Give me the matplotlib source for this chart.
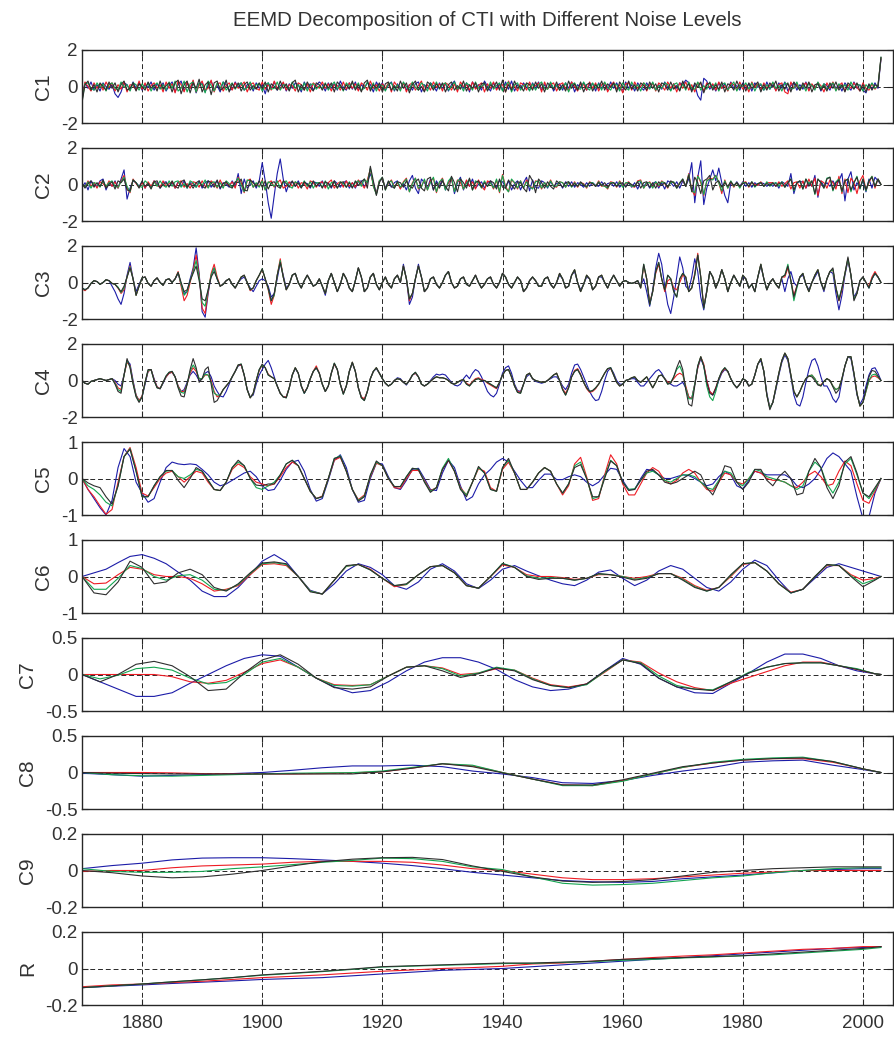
import matplotlib
matplotlib.use("Agg")
import matplotlib.pyplot as plt
import numpy as np

plt.rcParams["font.family"] = ["Liberation Sans", "DejaVu Sans"]

title = "EEMD Decomposition of CTI with Different Noise Levels"
panel_names = ["C1", "C2", "C3", "C4", "C5", "C6", "C7", "C8", "C9", "R"]
xtick_years = [1880, 1900, 1920, 1940, 1960, 1980, 2000]

# sampling grids (years)
years_1 = np.arange(1870, 2004)            # 134 values
years_half = np.arange(1870, 2003.5, 0.5)  # 267 values
years_c6 = list(range(1870, 2003, 2)) + [2003]
years_c7 = list(range(1870, 2003, 3)) + [2003]
years_5 = list(range(1870, 2001, 5)) + [2003]

# ---------------- C1 (half-year steps) ----------------
c1_blue = [
    -0.5, 0.2, -0.1, 0.25, -0.2, 0.1, -0.25, 0.2, 0.0, -0.15,
    0.1, -0.4, -0.6, -0.3, 0.2, 0.1, -0.2, 0.25, -0.1, 0.2,
    -0.2, 0.1, -0.05, 0.25, -0.2, 0.15, -0.1, 0.2, -0.25, 0.05,
    0.25, -0.3, 0.1, 0.3, -0.25, 0.2, -0.1, 0.3, -0.35, 0.15,
    0.2, -0.3, 0.1, 0.3, -0.2, 0.05, -0.3, 0.25, 0.1, -0.2,
    -0.15, 0.25, -0.05, 0.2, -0.2, 0.1, 0.15, -0.25, 0.2, -0.1,
    0.1, -0.4, 0.2, -0.1, 0.25, -0.2, 0.05, 0.2, -0.25, 0.15,
    -0.1, 0.2, 0.1, -0.3, 0.25, -0.1, 0.15, -0.2, 0.05, 0.25,
    0.1, -0.25, 0.2, -0.1, 0.15, -0.2, 0.3, -0.05, -0.2, 0.2,
    -0.15, 0.25, -0.2, 0.1, -0.1, 0.2, 0.1, -0.3, 0.25, -0.05,
    0.2, -0.2, 0.05, 0.25, -0.25, 0.15, -0.1, 0.2, -0.2, 0.1,
    -0.2, 0.15, 0.25, -0.3, 0.1, -0.1, 0.2, 0.05, -0.25, 0.2,
    -0.1, 0.15, -0.25, 0.1, 0.3, -0.2, 0.1, -0.1, 0.2, -0.3,
    0.25, -0.05, 0.1, -0.2, 0.3, 0.0, -0.25, 0.2, -0.1, 0.15,
    -0.2, 0.25, -0.15, 0.3, -0.25, 0.1, -0.1, 0.2, -0.05, -0.2,
    0.2, -0.1, 0.25, -0.2, 0.1, -0.1, 0.2, -0.25, 0.05, 0.15,
    -0.2, 0.2, -0.1, 0.25, -0.3, 0.1, -0.05, 0.2, -0.2, 0.1,
    0.15, -0.25, 0.2, -0.1, 0.1, -0.2, 0.25, -0.1, 0.2, -0.15,
    -0.2, 0.25, -0.1, 0.1, -0.25, 0.2, -0.05, -0.2, 0.2, -0.1,
    0.2, -0.2, 0.1, -0.15, 0.25, -0.05, -0.2, 0.15, -0.1, 0.2,
    0.1, 0.35, 0.2, -0.2, 0.1, -0.5, -0.75, 0.45, 0.3, -0.15,
    0.1, -0.25, 0.2, -0.1, 0.15, -0.2, 0.25, -0.1, 0.05, -0.2,
    0.2, -0.1, 0.15, -0.25, 0.2, -0.05, 0.1, -0.2, 0.25, -0.15,
    0.1, -0.2, 0.2, -0.1, 0.25, -0.25, 0.05, 0.2, -0.2, 0.1,
    -0.15, 0.25, -0.2, 0.1, -0.1, 0.2, -0.25, 0.15, 0.05, -0.2,
    0.2, -0.1, 0.1, -0.25, 0.2, -0.05, -0.2, 0.25, -0.1, 0.1,
    -0.2, -0.35, 0.1, -0.15, 0.2, -0.1, 1.5]
c1_red = [
    -0.7, 0.25, 0.0, -0.25, 0.2, -0.1, 0.15, -0.2, 0.25, -0.05,
    0.2, -0.25, 0.1, -0.15, 0.25, -0.3, 0.1, 0.05, -0.2, 0.3,
    -0.15, 0.2, -0.25, 0.05, 0.2, -0.1, 0.1, -0.3, 0.25, -0.1,
    0.15, -0.35, 0.3, 0.1, -0.3, 0.25, -0.1, 0.35, -0.3, 0.05,
    0.3, -0.2, -0.1, 0.35, -0.3, 0.15, 0.2, -0.25, 0.05, 0.2,
    -0.2, 0.2, -0.1, 0.05, 0.25, -0.3, 0.1, 0.2, -0.1, -0.2,
    0.25, -0.15, 0.1, -0.2, 0.3, -0.1, -0.15, 0.25, -0.2, 0.1,
    0.05, -0.25, 0.2, 0.1, -0.2, 0.15, -0.3, 0.2, 0.05, -0.1,
    0.25, -0.1, 0.15, -0.25, 0.1, 0.05, -0.2, 0.25, -0.15, 0.2,
    -0.1, 0.15, -0.25, 0.2, 0.05, -0.2, 0.3, -0.1, 0.1, -0.25,
    0.15, -0.1, 0.2, -0.3, 0.25, 0.0, -0.15, 0.2, -0.3, 0.1,
    0.2, -0.2, 0.05, 0.3, -0.25, 0.1, -0.2, 0.25, -0.05, 0.15,
    -0.25, 0.2, 0.1, -0.2, 0.15, -0.3, 0.25, 0.0, 0.1, -0.2,
    0.25, -0.15, 0.05, 0.2, -0.3, 0.15, -0.1, 0.25, -0.2, 0.05,
    0.1, -0.3, 0.3, -0.1, 0.05, -0.25, 0.2, 0.1, -0.2, 0.25,
    -0.1, 0.05, 0.2, -0.3, 0.25, -0.15, 0.1, 0.2, -0.25, 0.1,
    0.2, -0.1, -0.2, 0.25, 0.0, -0.25, 0.15, 0.1, -0.2, 0.25,
    -0.1, 0.2, -0.25, 0.1, 0.2, -0.3, 0.05, 0.25, -0.15, 0.1,
    -0.35, 0.15, 0.2, -0.2, 0.25, -0.1, 0.0, 0.2, -0.25, 0.1,
    0.15, -0.25, 0.2, 0.05, -0.2, 0.25, -0.1, 0.15, -0.3, 0.2,
    -0.1, 0.25, -0.2, 0.1, -0.3, 0.2, 0.15, -0.25, 0.2, -0.05,
    0.15, -0.2, 0.25, -0.1, 0.05, -0.25, 0.2, 0.1, -0.2, 0.25,
    -0.15, 0.1, -0.3, 0.25, -0.05, 0.15, -0.2, 0.2, -0.1, 0.05,
    0.2, -0.25, 0.1, 0.2, -0.3, -0.4, 0.25, -0.1, 0.15, -0.2,
    0.05, 0.2, -0.25, 0.15, -0.1, 0.2, 0.05, -0.3, 0.2, -0.1,
    0.25, -0.2, 0.05, 0.2, -0.25, 0.1, -0.1, 0.2, -0.05, -0.25,
    0.2, -0.1, -0.2, 0.15, -0.15, 0.05, 1.55]
c1_green = [
    -0.8, 0.15, 0.2, -0.1, -0.2, 0.2, -0.05, 0.15, -0.25, 0.1,
    0.2, -0.1, -0.2, 0.25, -0.05, 0.1, -0.25, 0.2, 0.1, -0.2,
    0.15, -0.1, 0.2, -0.25, 0.05, 0.2, -0.15, 0.1, -0.2, 0.25,
    -0.1, 0.3, -0.25, -0.1, 0.3, -0.3, 0.15, 0.25, -0.3, 0.2,
    0.1, -0.35, 0.3, 0.05, -0.25, 0.2, -0.1, 0.25, -0.2, 0.0,
    0.2, -0.15, 0.1, 0.2, -0.2, -0.05, 0.25, -0.15, 0.1, 0.15,
    -0.25, 0.1, 0.2, -0.15, -0.1, 0.25, -0.2, 0.1, 0.05, -0.2,
    0.25, -0.1, 0.1, -0.2, 0.2, -0.25, 0.1, 0.15, -0.15, 0.05,
    -0.1, 0.2, -0.2, 0.05, 0.25, -0.15, 0.1, -0.25, 0.2, 0.0,
    0.2, -0.1, 0.2, -0.2, -0.1, 0.25, -0.15, 0.2, -0.25, 0.1,
    0.05, -0.25, 0.15, 0.2, -0.2, 0.1, -0.25, 0.25, 0.0, -0.2,
    0.25, -0.05, -0.2, 0.2, 0.05, -0.25, 0.2, -0.1, 0.25, -0.15,
    0.1, 0.2, -0.2, 0.0, 0.25, -0.15, 0.1, -0.25, 0.2, 0.05,
    -0.2, 0.25, -0.1, 0.0, 0.15, -0.2, 0.25, -0.15, 0.05, 0.2,
    -0.25, 0.1, 0.25, -0.3, 0.1, 0.2, -0.2, 0.05, 0.15, -0.25,
    0.15, -0.2, 0.1, 0.25, -0.1, -0.15, 0.25, -0.1, 0.1, -0.2,
    -0.05, 0.2, -0.3, 0.1, 0.2, -0.1, -0.15, 0.25, -0.05, -0.2,
    0.2, -0.1, 0.15, -0.2, 0.25, -0.05, -0.2, 0.15, 0.1, -0.25,
    0.2, -0.05, -0.2, 0.25, -0.1, 0.1, -0.25, 0.2, 0.05, -0.15,
    0.25, -0.2, 0.05, -0.1, 0.2, 0.1, -0.25, 0.1, 0.2, -0.2,
    0.15, -0.2, 0.25, -0.1, -0.15, 0.25, -0.2, 0.05, -0.15, 0.25,
    -0.1, 0.2, -0.25, 0.1, 0.2, -0.2, 0.05, 0.25, -0.25, 0.1,
    0.0, 0.2, -0.15, 0.2, -0.25, 0.1, 0.15, -0.2, 0.1, -0.15,
    0.25, -0.1, 0.05, -0.25, 0.2, 0.1, -0.15, -0.1, 0.25, -0.2,
    0.1, -0.25, 0.2, 0.05, -0.2, 0.25, -0.1, 0.15, -0.15, 0.05,
    0.2, -0.25, 0.15, -0.05, 0.1, -0.2, 0.25, -0.1, 0.15, 0.05,
    -0.25, 0.1, -0.1, 0.2, -0.1, 0.05, 1.6]
c1_black = [
    -0.9, 0.1, 0.3, -0.2, 0.1, -0.3, 0.2, 0.0, -0.2, 0.25,
    -0.1, 0.2, -0.3, 0.1, 0.3, -0.2, -0.1, 0.2, -0.25, 0.15,
    0.0, -0.2, 0.25, -0.1, 0.1, -0.25, 0.3, -0.15, 0.05, 0.2,
    -0.3, 0.2, 0.35, -0.4, 0.1, 0.3, -0.35, 0.2, -0.1, 0.4,
    -0.3, 0.1, 0.25, -0.45, 0.2, 0.3, -0.2, -0.1, 0.35, -0.3,
    0.15, -0.1, 0.2, -0.25, 0.1, 0.25, -0.2, 0.05, -0.15, 0.2,
    -0.1, 0.25, -0.3, 0.15, 0.0, -0.2, 0.3, -0.1, 0.15, -0.25,
    0.2, 0.35, -0.3, 0.1, -0.2, 0.25, -0.05, -0.25, 0.2, 0.1,
    -0.2, 0.15, -0.1, 0.2, -0.3, 0.25, 0.05, -0.2, 0.1, -0.15,
    0.3, -0.2, 0.1, -0.3, 0.2, 0.35, -0.25, 0.1, -0.1, 0.2,
    -0.3, 0.15, 0.25, -0.2, 0.05, -0.25, 0.3, -0.1, 0.2, -0.35,
    0.1, 0.3, -0.2, 0.0, -0.3, 0.25, 0.1, -0.2, 0.15, -0.1,
    0.2, -0.3, 0.1, 0.25, -0.2, 0.05, -0.15, 0.3, -0.25, 0.1,
    -0.1, 0.2, -0.3, 0.15, 0.2, -0.25, 0.1, -0.05, 0.25, -0.2,
    0.35, -0.3, 0.1, -0.2, 0.3, -0.1, 0.05, -0.25, 0.2, 0.1,
    -0.2, 0.25, -0.1, 0.15, -0.3, 0.2, 0.0, -0.15, 0.25, -0.2,
    0.1, -0.25, 0.3, -0.1, 0.15, -0.2, 0.25, -0.3, 0.1, 0.2,
    -0.25, 0.1, -0.1, 0.3, -0.2, 0.15, -0.05, 0.2, -0.3, 0.25,
    0.0, -0.2, 0.3, -0.15, 0.1, -0.25, 0.2, 0.05, -0.2, 0.25,
    -0.1, 0.15, -0.3, 0.2, 0.1, -0.2, 0.25, -0.15, 0.05, -0.25,
    0.3, -0.1, 0.15, -0.3, 0.2, -0.05, 0.25, -0.35, 0.1, 0.2,
    -0.2, 0.1, -0.15, 0.25, -0.3, 0.15, 0.05, -0.2, 0.3, -0.1,
    0.15, -0.25, 0.2, -0.1, 0.05, 0.25, -0.3, 0.1, -0.2, 0.2,
    -0.05, 0.3, -0.25, 0.1, -0.15, 0.2, -0.3, 0.25, 0.0, -0.2,
    0.2, -0.1, 0.25, -0.3, 0.1, 0.15, -0.2, 0.05, -0.25, 0.2,
    -0.1, 0.25, -0.2, 0.1, -0.3, 0.2, 0.05, -0.15, 0.2, -0.25,
    0.1, -0.3, 0.15, -0.2, 0.1, 0.0, 1.6]

# ---------------- C2 (half-year steps) ----------------
c2_blue = [
    -0.2, 0.1, -0.3, 0.2, 0.0, -0.1, 0.2, 0.3, -0.3, 0.1,
    -0.1, 0.2, -0.2, 0.3, 0.8, -0.8, -0.2, 0.2, 0.1, -0.1,
    0.15, -0.2, 0.1, -0.15, 0.2, 0.05, -0.2, 0.1, 0.15, -0.1,
    0.1, -0.2, 0.15, -0.1, 0.2, -0.2, 0.1, 0.05, -0.15, 0.2,
    -0.2, 0.1, 0.2, -0.15, 0.05, 0.2, -0.25, 0.1, 0.0, -0.15,
    0.2, -0.1, 0.6, -0.5, 0.3, -0.2, 0.0, 0.2, -0.2, 0.2,
    1.2, 0.2, -1.0, -1.85, -0.6, 0.6, 1.4, 0.3, -0.4, 0.1,
    0.15, -0.1, 0.2, -0.15, 0.1, 0.05, -0.2, 0.15, 0.1, -0.1,
    0.2, -0.15, 0.1, -0.2, 0.2, 0.05, -0.15, 0.1, 0.2, -0.2,
    0.1, -0.2, 0.15, 0.2, -0.1, 0.1, 0.6, 0.1, -0.5, 0.2,
    0.3, -0.2, 0.15, -0.15, 0.1, 0.2, -0.2, 0.05, -0.3, 0.2,
    0.5, -0.2, -0.5, 0.3, 0.1, -0.2, 0.3, -0.3, 0.2, -0.1,
    0.3, -0.3, 0.1, 0.35, -0.5, 0.1, 0.4, -0.3, 0.2, -0.1,
    0.3, -0.2, 0.0, 0.15, -0.2, 0.1, 0.2, -0.15, -0.1, 0.2,
    0.15, -0.15, 0.2, -0.3, 0.05, 0.2, -0.3, 0.1, 0.4, -0.35,
    0.25, -0.15, -0.2, 0.2, 0.1, -0.2, 0.15, -0.1, 0.05, 0.1,
    -0.2, 0.15, -0.1, 0.15, -0.15, 0.1, 0.0, -0.15, 0.1, -0.1,
    0.1, -0.05, -0.1, 0.15, -0.1, 0.05, 0.1, -0.1, 0.15, -0.15,
    0.05, -0.1, 0.1, -0.15, 0.1, -0.25, 0.15, -0.1, 0.1, -0.2,
    0.05, 0.15, -0.2, 0.1, -0.25, 0.2, 0.1, -0.1, 0.15, -0.2,
    0.2, -0.1, 0.3, 1.2, -1.0, 0.4, 1.3, -1.1, -0.2, 0.3,
    0.8, 0.2, 0.9, 0.1, -0.6, -1.0, 0.1, -0.1, 0.15, -0.1,
    0.15, -0.1, 0.1, -0.15, 0.1, -0.05, 0.1, 0.05, -0.1, 0.05,
    -0.1, 0.1, -0.2, 0.15, 0.05, -0.1, 0.6, -0.5, 0.1, 0.15,
    0.15, -0.2, 0.1, -0.1, 0.5, -0.7, 0.2, -0.1, 0.1, -0.1,
    0.2, -0.1, 0.2, 0.6, -0.9, 0.3, 0.7, -0.3, 0.1, -0.2,
    0.2, -0.4, 0.3, -0.2, 0.4, 0.2, 0.0]
c2_red = [
    0.0, -0.15, 0.2, -0.1, 0.1, -0.2, 0.15, 0.05, -0.15, 0.2,
    -0.1, 0.15, -0.2, 0.2, 0.5, -0.2, -0.45, 0.3, 0.05, -0.15,
    0.1, -0.2, 0.15, -0.1, 0.2, -0.05, -0.15, 0.2, -0.1, 0.05,
    0.15, -0.2, 0.1, 0.2, -0.15, 0.05, -0.2, 0.15, 0.1, -0.15,
    0.2, -0.1, -0.15, 0.2, 0.05, -0.2, 0.25, -0.1, 0.1, -0.05,
    0.15, -0.2, 0.4, 0.1, -0.45, 0.2, 0.3, -0.15, 0.05, -0.1,
    0.25, -0.3, 0.1, 0.2, -0.15, 0.1, 0.25, -0.2, -0.1, 0.15,
    -0.1, 0.15, -0.2, 0.1, 0.05, -0.25, 0.2, 0.1, -0.15, 0.1,
    0.15, -0.2, 0.1, 0.25, -0.2, 0.05, 0.15, -0.15, 0.2, -0.1,
    0.1, -0.15, 0.25, 0.05, -0.2, 0.25, 0.85, -0.1, -0.5, 0.2,
    0.35, -0.25, 0.05, 0.25, -0.15, 0.1, -0.25, 0.15, 0.35, -0.4,
    0.1, 0.35, -0.25, -0.1, 0.25, -0.3, 0.2, 0.35, -0.45, 0.1,
    0.35, -0.25, 0.1, 0.3, -0.35, 0.25, 0.1, -0.25, 0.25, -0.1,
    0.15, -0.25, 0.25, -0.1, -0.3, 0.2, 0.1, -0.25, 0.25, -0.45,
    0.55, -0.1, -0.4, 0.25, 0.1, -0.25, 0.2, -0.2, 0.25, -0.1,
    -0.2, 0.2, 0.15, -0.25, 0.1, -0.1, 0.25, -0.1, -0.15, 0.15,
    0.1, -0.15, 0.1, -0.1, 0.15, -0.15, 0.1, 0.05, -0.2, 0.15,
    0.05, -0.1, 0.2, -0.1, -0.05, -0.25, 0.15, 0.1, -0.15, 0.2,
    -0.1, 0.05, 0.15, -0.1, -0.15, 0.2, 0.25, -0.2, 0.05, 0.15,
    -0.15, 0.1, -0.1, 0.2, 0.05, -0.2, 0.15, 0.1, -0.15, 0.1,
    0.25, -0.1, 0.6, -0.3, -0.6, 0.5, 0.1, -0.6, 0.2, 0.35,
    0.3, 0.5, 0.1, -0.5, 0.25, -0.2, 0.15, -0.15, 0.1, -0.15,
    0.1, 0.15, -0.15, 0.1, 0.0, -0.05, 0.15, -0.1, 0.1, 0.1,
    0.1, -0.1, 0.15, -0.1, 0.05, 0.2, -0.25, 0.1, 0.15, -0.2,
    0.2, -0.2, 0.3, -0.1, 0.35, -0.6, 0.2, 0.1, -0.2, 0.25,
    0.1, -0.25, 0.45, -0.5, 0.3, -0.45, 0.35, 0.1, -0.5, 0.2,
    0.5, -0.3, 0.1, 0.45, -0.2, 0.3, 0.0]
c2_green = [
    0.05, -0.15, 0.15, -0.2, 0.1, 0.05, -0.15, 0.2, -0.1, 0.1,
    0.2, -0.1, -0.15, 0.15, 0.4, -0.1, -0.4, 0.25, 0.1, -0.1,
    -0.15, 0.2, 0.05, -0.2, 0.15, -0.1, 0.2, -0.05, -0.15, 0.2,
    -0.1, 0.15, 0.2, -0.15, 0.05, -0.2, 0.2, 0.1, -0.15, 0.1,
    -0.05, 0.25, -0.2, 0.1, 0.15, -0.15, 0.1, -0.2, 0.2, 0.05,
    -0.15, 0.1, 0.35, -0.05, -0.4, 0.25, 0.2, -0.15, 0.1, -0.15,
    0.2, -0.3, 0.15, 0.05, -0.1, 0.2, -0.2, 0.1, 0.2, -0.1,
    -0.2, 0.15, 0.05, -0.15, 0.2, -0.1, 0.15, -0.2, 0.1, 0.1,
    -0.15, 0.2, -0.25, 0.1, 0.15, -0.2, 0.15, 0.05, -0.15, 0.15,
    -0.15, 0.1, 0.2, -0.1, 0.3, 0.1, 0.9, -0.1, -0.55, 0.2,
    0.4, -0.3, 0.1, 0.2, -0.2, 0.15, -0.15, 0.1, 0.3, -0.4,
    0.05, 0.35, -0.2, -0.15, 0.3, -0.3, 0.1, 0.4, -0.4, 0.15,
    0.3, -0.3, 0.2, 0.4, -0.4, 0.2, 0.3, -0.25, 0.05, 0.3,
    -0.3, 0.2, 0.1, -0.2, 0.2, -0.1, 0.1, -0.2, 0.3, -0.4,
    0.5, -0.2, -0.4, 0.3, 0.1, -0.2, 0.2, -0.2, 0.15, -0.1,
    -0.25, 0.15, 0.2, -0.2, 0.1, -0.15, 0.2, -0.1, -0.1, 0.15,
    0.1, -0.15, 0.15, -0.15, 0.1, -0.1, 0.1, 0.0, -0.15, 0.1,
    0.1, -0.1, 0.15, -0.05, -0.1, -0.2, 0.1, 0.1, -0.1, 0.15,
    -0.15, 0.1, 0.1, -0.1, -0.1, 0.15, 0.2, -0.2, 0.1, 0.1,
    -0.2, 0.15, -0.05, 0.15, 0.1, -0.15, 0.1, 0.15, -0.2, 0.1,
    0.3, -0.1, 0.55, -0.35, -0.45, 0.45, 0.2, -0.55, 0.2, 0.3,
    0.25, 0.5, 0.1, -0.35, 0.2, -0.2, 0.2, -0.1, 0.1, -0.2,
    0.1, 0.1, -0.1, 0.15, -0.15, 0.05, 0.1, -0.1, 0.15, -0.1,
    0.05, 0.1, -0.1, 0.15, -0.15, 0.1, 0.3, -0.35, 0.1, 0.2,
    -0.25, 0.3, 0.05, 0.2, -0.55, 0.3, 0.1, -0.2, 0.35, 0.4,
    -0.35, 0.15, 0.3, -0.4, 0.2, 0.3, -0.4, 0.1, 0.45, -0.25,
    0.3, -0.35, 0.2, 0.45, -0.1, 0.3, 0.0]
c2_black = [
    0.1, -0.2, 0.05, 0.2, -0.15, 0.1, -0.1, 0.25, -0.2, 0.0,
    0.15, -0.25, 0.2, 0.1, 0.3, -0.3, -0.35, 0.25, 0.1, -0.2,
    0.2, -0.1, 0.05, -0.25, 0.15, 0.2, -0.2, 0.0, 0.1, -0.15,
    0.2, -0.1, -0.2, 0.15, 0.25, -0.15, 0.05, -0.2, 0.1, 0.2,
    -0.1, -0.2, 0.2, 0.1, -0.15, 0.25, -0.2, 0.05, 0.15, -0.1,
    -0.2, 0.15, 0.1, 0.3, -0.3, -0.35, 0.25, 0.1, -0.1, 0.2,
    -0.15, 0.2, -0.25, 0.1, 0.15, -0.1, -0.2, 0.2, 0.05, -0.15,
    0.2, -0.1, 0.1, -0.2, 0.15, 0.0, -0.15, 0.2, -0.1, 0.1,
    -0.2, 0.15, 0.05, -0.15, 0.2, -0.2, 0.1, 0.15, -0.15, 0.1,
    -0.2, 0.2, -0.05, 0.15, 0.3, -0.2, 1.0, 0.2, -0.6, 0.1,
    0.4, -0.3, 0.2, -0.1, -0.2, 0.15, 0.1, -0.15, 0.2, -0.1,
    -0.2, 0.15, 0.3, -0.2, -0.35, 0.3, 0.4, -0.3, 0.1, -0.2,
    0.2, -0.1, -0.35, 0.45, 0.1, -0.4, 0.3, 0.1, -0.2, 0.35,
    -0.3, 0.1, 0.2, -0.15, 0.1, -0.1, 0.2, 0.1, -0.25, 0.3,
    -0.15, -0.2, 0.25, -0.05, -0.25, 0.15, 0.1, -0.2, -0.4, 0.5,
    0.2, -0.45, 0.3, 0.1, -0.2, 0.15, -0.1, -0.25, 0.2, 0.05,
    -0.15, 0.1, 0.15, -0.1, 0.05, -0.1, 0.15, -0.05, -0.1, 0.1,
    0.05, -0.1, 0.1, -0.05, 0.1, -0.15, 0.05, 0.1, -0.1, 0.05,
    0.1, -0.15, 0.1, 0.0, -0.1, 0.15, -0.2, 0.1, 0.15, -0.15,
    0.1, -0.2, 0.15, -0.05, 0.1, -0.15, 0.2, 0.1, -0.2, 0.05,
    0.3, -0.1, 0.5, -0.4, 0.4, 0.1, -0.5, 0.2, 0.3, 0.5,
    -0.3, 0.1, 0.2, -0.15, 0.1, -0.1, 0.15, -0.05, 0.1, -0.1,
    0.05, 0.1, -0.1, 0.15, -0.1, 0.05, 0.1, -0.1, 0.05, -0.05,
    0.1, -0.1, 0.05, 0.1, -0.15, 0.1, 0.3, -0.3, 0.1, 0.2,
    -0.25, 0.3, -0.1, 0.2, -0.5, 0.3, 0.1, -0.2, 0.3, 0.4,
    -0.3, 0.1, 0.25, -0.35, 0.2, 0.3, -0.3, 0.1, 0.4, -0.2,
    0.3, -0.3, 0.2, 0.4, -0.1, 0.3, 0.0]

# ---------------- C3 (half-year steps) ----------------
c3_blue = [
    -0.3, -0.4, -0.3, -0.05, 0.1, 0.05, -0.1, 0.0, 0.15, 0.1,
    -0.2, -0.5, -0.9, -1.2, -0.6, 0.4, 1.1, 0.2, -0.5, -0.1,
    0.25, 0.3, -0.05, -0.2, 0.1, 0.25, 0.0, -0.15, 0.15, 0.2,
    0.0, 0.2, 0.5, -0.1, -0.6, -0.5, 0.2, 0.8, 1.9, 0.5,
    -1.6, -1.9, -0.6, 0.4, 0.8, 0.2, -0.2, -0.1, 0.1, 0.2,
    -0.1, -0.3, 0.0, 0.2, 0.3, 0.0, -0.3, -0.5, -0.2, 0.1,
    0.2, 0.1, -0.2, -0.8, -0.6, 0.2, 1.1, 0.4, -0.3, -0.1,
    0.4, 0.5, 0.0, -0.3, 0.1, 0.4, 0.1, -0.2, -0.1, 0.2,
    -0.2, -0.7, 0.1, 0.5, 0.0, -0.5, -0.1, 0.5, 0.2, -0.3,
    -0.5, 0.1, 0.8, 0.3, -0.5, -0.3, 0.3, 0.5, -0.1, -0.4,
    0.0, 0.3, -0.1, -0.3, 0.2, 0.4, 0.0, 1.0, 0.2, -1.2,
    -0.8, 0.2, 1.0, 0.3, -0.5, -0.3, 0.2, 0.3, -0.1, -0.3,
    0.0, 0.4, 0.6, 0.0, -0.3, -0.2, 0.2, 0.3, -0.1, -0.2,
    0.1, 0.4, 0.0, -0.3, -0.1, 0.2, 0.3, -0.1, -0.3, 0.0,
    0.5, 0.3, -0.1, -0.3, 0.0, 0.3, 0.1, -0.5, -0.3, 0.1,
    0.3, 0.1, -0.2, -0.2, 0.2, 0.3, -0.1, -0.3, 0.0, 0.4,
    0.2, -0.3, -0.2, 0.4, 0.6, 0.0, -0.4, -0.1, 0.3, 0.2,
    -0.4, -0.2, 0.3, 0.3, 0.0, -0.3, 0.1, 0.4, 0.1, -0.2,
    0.05, 0.1, 0.0, -0.05, 0.0, 0.1, -0.2, 0.2, -0.5, -1.3,
    -0.4, 0.8, 1.6, 1.0, -0.2, -1.2, -1.7, -0.8, 0.3, 1.4,
    0.8, -0.2, -0.4, 0.3, 1.3, 0.6, -0.8, -1.5, -0.4, 0.6,
    0.3, -0.3, 0.1, 0.7, 0.2, -0.5, 0.0, 0.4, 0.1, -0.2,
    0.3, 0.2, -0.3, -0.1, -0.5, 0.3, 0.9, 0.2, -0.4, 0.0,
    0.2, -0.1, -0.3, 0.2, -0.5, 0.2, 0.6, 0.0, -0.2, 0.3,
    0.4, -0.1, -0.4, 0.0, 0.3, 0.6, 0.0, -0.5, 0.2, 0.6,
    0.5, -0.6, -1.5, -0.7, 0.4, 1.2, 0.4, -0.8, -0.5, 0.1,
    0.3, 0.0, -0.3, 0.2, 0.5, 0.3, 0.0]
c3_red = [
    -0.35, -0.45, -0.3, -0.05, 0.1, 0.05, -0.1, 0.0, 0.15, 0.1,
    -0.05, -0.1, -0.3, -0.6, -0.4, 0.3, 0.9, 0.2, -0.7, -0.2,
    0.25, 0.3, -0.05, -0.2, 0.1, 0.25, 0.0, -0.15, 0.15, 0.2,
    0.0, 0.2, 0.6, -0.2, -1.0, -0.7, 0.0, 0.7, 1.5, 0.4,
    -1.4, -1.7, -0.5, 0.5, 1.0, 0.3, -0.2, -0.1, 0.1, 0.2,
    -0.1, -0.3, 0.0, 0.3, 0.4, 0.0, -0.45, -0.3, 0.1, 0.4,
    0.7, 0.2, -0.4, -1.2, -0.7, 0.4, 1.3, 0.3, -0.4, -0.1,
    0.4, 0.5, 0.0, -0.3, 0.1, 0.4, 0.1, -0.2, -0.1, 0.2,
    -0.2, -0.6, 0.1, 0.5, 0.0, -0.5, -0.1, 0.5, 0.2, -0.3,
    -0.5, 0.1, 0.8, 0.3, -0.5, -0.3, 0.3, 0.5, -0.1, -0.4,
    0.0, 0.3, -0.1, -0.3, 0.2, 0.4, 0.0, 0.9, 0.2, -1.0,
    -0.6, 0.2, 0.9, 0.3, -0.5, -0.3, 0.2, 0.3, -0.1, -0.3,
    0.0, 0.4, 0.6, 0.0, -0.3, -0.2, 0.2, 0.3, -0.1, -0.2,
    0.1, 0.4, 0.0, -0.3, -0.1, 0.2, 0.3, -0.1, -0.3, 0.0,
    0.5, 0.3, -0.1, -0.3, 0.0, 0.3, 0.1, -0.5, -0.3, 0.1,
    0.3, 0.1, -0.2, -0.2, 0.2, 0.3, -0.1, -0.3, 0.0, 0.5,
    0.2, -0.3, -0.2, 0.4, 0.7, 0.0, -0.5, -0.1, 0.4, 0.2,
    -0.4, -0.2, 0.3, 0.4, 0.0, -0.3, 0.1, 0.4, 0.1, -0.2,
    0.05, 0.1, 0.0, -0.05, 0.0, 0.1, -0.3, 0.9, 0.2, -1.1,
    -0.5, 0.5, 1.0, 0.2, -0.5, 0.1, 0.2, -0.3, -0.4, 0.0,
    0.4, 0.3, -0.5, -0.3, 0.5, 1.6, 0.3, -1.3, -0.5, 0.6,
    0.3, -0.3, 0.1, 0.7, 0.2, -0.5, 0.0, 0.4, 0.1, -0.2,
    0.4, 0.2, -0.3, -0.1, -0.5, 0.3, 1.0, 0.2, -0.4, 0.0,
    0.2, -0.1, -0.3, 0.3, 0.3, 0.8, 0.1, -0.7, -0.2, 0.3,
    0.5, -0.1, -0.5, 0.0, 0.4, 0.7, 0.0, -0.4, 0.2, 0.6,
    0.7, -0.3, -1.0, -0.4, 0.5, 1.3, 0.4, -0.9, -0.6, 0.1,
    0.3, 0.0, -0.2, 0.3, 0.6, 0.3, 0.0]
c3_green = [
    -0.3, -0.4, -0.3, -0.05, 0.1, 0.05, -0.1, 0.0, 0.15, 0.1,
    -0.05, -0.1, -0.25, -0.55, -0.3, 0.3, 0.85, 0.2, -0.7, -0.2,
    0.25, 0.3, -0.05, -0.2, 0.1, 0.25, 0.0, -0.15, 0.15, 0.2,
    0.0, 0.2, 0.55, -0.1, -0.7, -0.5, 0.1, 0.6, 1.2, 0.3,
    -1.1, -1.3, -0.4, 0.4, 0.8, 0.2, -0.2, -0.1, 0.1, 0.2,
    -0.1, -0.3, 0.0, 0.3, 0.4, 0.0, -0.4, -0.3, 0.1, 0.4,
    0.75, 0.2, -0.35, -1.0, -0.7, 0.4, 1.2, 0.3, -0.4, -0.1,
    0.4, 0.5, 0.0, -0.3, 0.1, 0.4, 0.1, -0.2, -0.1, 0.2,
    -0.2, -0.6, 0.1, 0.5, 0.0, -0.5, -0.1, 0.5, 0.2, -0.3,
    -0.5, 0.1, 0.8, 0.3, -0.5, -0.3, 0.3, 0.5, -0.1, -0.4,
    0.0, 0.3, -0.1, -0.3, 0.2, 0.4, 0.0, 0.9, 0.2, -0.9,
    -0.6, 0.2, 0.9, 0.3, -0.5, -0.3, 0.2, 0.3, -0.1, -0.3,
    0.0, 0.4, 0.6, 0.0, -0.3, -0.2, 0.2, 0.3, -0.1, -0.2,
    0.1, 0.4, 0.0, -0.3, -0.1, 0.2, 0.3, -0.1, -0.3, 0.0,
    0.5, 0.3, -0.1, -0.3, 0.0, 0.3, 0.1, -0.5, -0.3, 0.1,
    0.3, 0.1, -0.2, -0.2, 0.2, 0.3, -0.1, -0.3, 0.0, 0.5,
    0.2, -0.3, -0.2, 0.4, 0.7, 0.0, -0.5, -0.1, 0.4, 0.2,
    -0.4, -0.2, 0.3, 0.4, 0.0, -0.3, 0.1, 0.4, 0.1, -0.2,
    0.05, 0.1, 0.0, -0.05, 0.0, 0.1, -0.3, 1.0, 0.2, -1.2,
    -0.5, 0.6, 1.1, 0.2, -0.4, 0.4, 0.2, -0.5, -0.8, 0.2,
    0.5, 0.3, -0.5, -0.3, 0.4, 1.5, 0.3, -1.4, -0.5, 0.6,
    0.3, -0.3, 0.1, 0.7, 0.2, -0.5, 0.0, 0.4, 0.1, -0.2,
    0.4, 0.2, -0.3, -0.1, -0.5, 0.3, 1.0, 0.2, -0.4, 0.0,
    0.2, -0.1, -0.3, 0.3, 0.4, 1.0, 0.1, -1.0, -0.3, 0.3,
    0.5, -0.1, -0.5, 0.0, 0.4, 0.7, 0.0, -0.4, 0.2, 0.6,
    0.7, -0.3, -0.9, -0.3, 0.5, 1.3, 0.4, -0.9, -0.6, 0.1,
    0.3, 0.0, -0.3, 0.2, 0.5, 0.3, 0.0]
c3_black = [
    -0.3, -0.4, -0.3, -0.05, 0.1, 0.05, -0.1, 0.0, 0.15, 0.1,
    -0.05, -0.1, -0.3, -0.5, -0.2, 0.3, 0.8, 0.2, -0.7, -0.2,
    0.25, 0.3, -0.05, -0.2, 0.1, 0.25, 0.0, -0.15, 0.15, 0.2,
    0.0, 0.2, 0.55, 0.0, -0.5, -0.4, 0.1, 0.5, 0.9, 0.1,
    -0.9, -1.0, -0.4, 0.3, 0.6, 0.2, -0.2, -0.1, 0.1, 0.2,
    -0.1, -0.3, 0.0, 0.3, 0.4, 0.0, -0.4, -0.3, 0.1, 0.4,
    0.75, 0.2, -0.3, -1.0, -0.6, 0.4, 1.1, 0.3, -0.4, -0.1,
    0.4, 0.5, 0.0, -0.3, 0.1, 0.4, 0.1, -0.2, -0.1, 0.2,
    -0.2, -0.6, 0.1, 0.5, 0.0, -0.5, -0.1, 0.5, 0.2, -0.3,
    -0.5, 0.1, 0.8, 0.3, -0.5, -0.3, 0.3, 0.5, -0.1, -0.4,
    0.0, 0.3, -0.1, -0.3, 0.2, 0.4, 0.0, 0.9, 0.2, -0.9,
    -0.6, 0.2, 0.9, 0.3, -0.5, -0.3, 0.2, 0.3, -0.1, -0.3,
    0.0, 0.4, 0.6, 0.0, -0.3, -0.2, 0.2, 0.3, -0.1, -0.2,
    0.1, 0.4, 0.0, -0.3, -0.1, 0.2, 0.3, -0.1, -0.3, 0.0,
    0.5, 0.3, -0.1, -0.3, 0.0, 0.3, 0.1, -0.5, -0.3, 0.1,
    0.3, 0.1, -0.2, -0.2, 0.2, 0.3, -0.1, -0.3, 0.0, 0.5,
    0.2, -0.3, -0.2, 0.4, 0.7, 0.0, -0.5, -0.1, 0.4, 0.2,
    -0.4, -0.2, 0.3, 0.4, 0.0, -0.3, 0.1, 0.4, 0.1, -0.2,
    0.05, 0.1, 0.0, -0.05, 0.0, 0.1, -0.3, 1.0, 0.2, -1.2,
    -0.5, 0.6, 1.1, 0.2, -0.4, 0.4, 0.2, -0.5, -0.8, 0.2,
    0.5, 0.3, -0.5, -0.3, 0.4, 1.5, 0.3, -1.4, -0.5, 0.6,
    0.3, -0.3, 0.1, 0.7, 0.2, -0.5, 0.0, 0.4, 0.1, -0.2,
    0.4, 0.2, -0.3, -0.1, -0.5, 0.3, 1.0, 0.2, -0.4, 0.0,
    0.2, -0.1, -0.3, 0.3, 0.4, 0.9, 0.1, -0.8, -0.2, 0.3,
    0.5, -0.1, -0.5, 0.0, 0.4, 0.7, 0.0, -0.4, 0.2, 0.6,
    0.8, -0.3, -1.0, -0.3, 0.5, 1.4, 0.4, -1.0, -0.6, 0.1,
    0.3, 0.0, -0.3, 0.2, 0.5, 0.3, 0.0]

# ---------------- C4 (half-year steps) ----------------
c4_blue = [
    0.0, -0.15, -0.2, -0.05, 0.0, 0.05, 0.1, 0.05, 0.0, 0.05,
    0.1, 0.0, -0.2, -0.3, 0.3, 1.1, 0.9, 0.0, -0.8, -1.1,
    -0.9, -0.2, 0.5, 0.6, 0.1, -0.35, -0.45, -0.15, 0.2, 0.4,
    0.45, 0.2, -0.3, -0.6, -0.5, -0.1, 0.3, 0.5, 0.3, 0.0,
    0.1, 0.4, 0.5, 0.2, -0.3, -0.6, -0.85, -0.9, -0.6, -0.2,
    0.2, 0.5, 0.8, 0.85, 0.3, -0.5, -0.9, -0.8, -0.2, 0.3,
    0.6, 0.9, 1.1, 0.7, 0.2, -0.3, -0.7, -0.9, -0.9, -0.4,
    0.3, 0.65, 0.4, -0.3, -0.7, -0.4, 0.1, 0.5, 0.7, 0.4,
    -0.2, -0.6, -0.3, 0.4, 0.9, 0.6, -0.2, -0.7, -0.3, 0.5,
    0.95, 0.5, -0.4, -0.9, -1.05, -0.6, 0.1, 0.5, 0.65, 0.4,
    0.1, -0.15, -0.3, -0.2, 0.0, 0.15, 0.1, -0.1, -0.25, 0.0,
    0.3, 0.4, 0.2, -0.2, -0.3, -0.2, 0.0, 0.2, 0.35, 0.3,
    0.35, 0.3, 0.1, -0.1, -0.25, -0.3, -0.2, 0.1, 0.3, 0.1,
    0.4, 0.6, 0.5, 0.2, -0.2, -0.6, -0.8, -0.9, -0.7, -0.2,
    0.4, 0.7, 0.8, 0.4, -0.2, -0.55, -0.6, -0.2, 0.2, 0.35,
    0.1, -0.05, -0.1, -0.15, -0.1, 0.0, 0.1, 0.2, 0.2, 0.0,
    -0.3, -0.5, -0.2, 0.4, 0.85, 0.9, 0.6, 0.2, -0.2, -0.6,
    -0.9, -1.1, -1.05, -0.6, 0.0, 0.5, 0.7, 0.4, 0.0, -0.2,
    -0.2, 0.0, 0.05, 0.1, 0.1, -0.1, -0.3, -0.3, -0.1, 0.1,
    0.3, 0.5, 0.6, 0.4, 0.1, -0.1, -0.2, -0.3, -0.3, -0.2,
    -0.1, -0.4, -0.9, -1.0, -0.2, 0.7, 1.2, 0.8, 0.0, -0.6,
    -0.8, -0.5, 0.0, 0.4, 0.6, 0.5, 0.1, -0.2, -0.4, -0.2,
    0.1, 0.0, -0.3, -0.2, 0.3, 0.9, 1.1, 0.5, -0.7, -1.5,
    -1.2, -0.5, 0.3, 1.0, 1.4, 1.1, 0.2, -0.8, -1.3, -1.4,
    -0.9, -0.1, 0.6, 1.1, 1.2, 0.8, 0.2, -0.3, -0.3, -0.6,
    -1.0, -1.2, -0.9, 0.0, 0.8, 1.3, 1.2, 0.3, -0.8, -1.3,
    -1.0, -0.3, 0.3, 0.65, 0.7, 0.4, 0.0]
c4_red = [
    0.0, -0.15, -0.2, -0.05, 0.0, 0.05, 0.1, 0.05, 0.0, 0.05,
    0.1, -0.1, -0.4, -0.5, 0.3, 1.0, 0.8, -0.1, -0.8, -1.1,
    -0.85, -0.1, 0.5, 0.6, 0.05, -0.35, -0.45, -0.1, 0.2, 0.4,
    0.45, 0.2, -0.3, -0.6, -0.6, -0.2, 0.4, 0.7, 0.5, 0.1,
    0.1, 0.3, 0.3, 0.0, -0.6, -0.9, -0.8, -0.5, -0.3, -0.1,
    0.2, 0.5, 0.85, 0.85, 0.3, -0.5, -0.95, -0.7, 0.0, 0.55,
    0.85, 0.7, 0.35, 0.2, 0.1, -0.3, -0.7, -0.9, -0.9, -0.4,
    0.3, 0.7, 0.4, -0.3, -0.65, -0.4, 0.1, 0.5, 0.8, 0.4,
    -0.2, -0.6, -0.3, 0.4, 0.9, 0.6, -0.2, -0.7, -0.3, 0.5,
    1.0, 0.5, -0.4, -0.9, -1.0, -0.6, 0.1, 0.5, 0.7, 0.4,
    0.1, -0.15, -0.3, -0.2, 0.0, 0.1, 0.05, -0.1, -0.2, 0.0,
    0.3, 0.4, 0.2, -0.2, -0.3, -0.2, -0.05, 0.1, 0.2, 0.15,
    0.15, 0.1, 0.0, -0.15, -0.2, -0.1, 0.0, 0.05, -0.15, -0.25,
    -0.05, 0.1, 0.15, 0.05, 0.0, -0.15, -0.25, -0.35, -0.45, -0.1,
    0.3, 0.55, 0.6, 0.2, -0.3, -0.6, -0.65, -0.2, 0.3, 0.4,
    0.1, 0.0, -0.05, -0.1, -0.1, 0.0, 0.15, 0.3, 0.4, 0.0,
    -0.45, -0.7, -0.35, 0.2, 0.55, 0.65, 0.35, -0.1, -0.45, -0.65,
    -0.6, -0.45, -0.2, 0.1, 0.4, 0.65, 0.65, 0.3, -0.1, -0.3,
    -0.2, 0.0, 0.05, 0.15, 0.2, 0.0, -0.1, 0.05, 0.2, -0.1,
    -0.4, -0.1, 0.25, 0.3, 0.1, -0.1, -0.1, 0.1, 0.3, 0.4,
    0.3, -0.3, -0.9, -1.0, -0.2, 0.7, 1.3, 0.9, 0.0, -0.6,
    -0.75, -0.4, 0.1, 0.45, 0.65, 0.5, 0.1, -0.2, -0.4, -0.2,
    0.1, 0.0, -0.3, -0.2, 0.3, 0.9, 1.2, 0.5, -0.8, -1.5,
    -1.2, -0.4, 0.4, 1.1, 1.5, 1.2, 0.3, -0.6, -0.9, -0.6,
    -0.2, 0.1, 0.25, 0.3, 0.1, -0.2, -0.25, -0.05, 0.1, 0.0,
    -0.3, -0.5, -0.4, 0.1, 0.8, 1.3, 1.3, 0.4, -0.7, -1.4,
    -1.2, -0.6, 0.0, 0.2, 0.25, 0.15, 0.0]
c4_green = [
    0.0, -0.15, -0.2, -0.05, 0.0, 0.05, 0.1, 0.05, 0.0, 0.05,
    0.1, -0.15, -0.5, -0.6, 0.3, 1.1, 0.75, -0.15, -0.85, -1.15,
    -0.9, -0.1, 0.55, 0.6, 0.0, -0.4, -0.45, -0.1, 0.25, 0.45,
    0.5, 0.2, -0.35, -0.65, -0.7, -0.2, 0.5, 0.85, 0.6, 0.1,
    0.1, 0.35, 0.3, -0.1, -0.7, -0.8, -0.8, -0.5, -0.3, -0.1,
    0.2, 0.5, 0.85, 0.9, 0.3, -0.5, -0.95, -0.7, 0.0, 0.6,
    0.85, 0.7, 0.3, 0.2, 0.1, -0.3, -0.7, -0.9, -0.95, -0.4,
    0.3, 0.7, 0.4, -0.3, -0.7, -0.4, 0.1, 0.5, 0.7, 0.4,
    -0.2, -0.6, -0.3, 0.4, 0.95, 0.6, -0.2, -0.75, -0.3, 0.5,
    1.0, 0.5, -0.4, -0.95, -1.1, -0.6, 0.1, 0.5, 0.7, 0.4,
    0.1, -0.15, -0.3, -0.2, 0.0, 0.1, 0.05, -0.1, -0.2, 0.0,
    0.3, 0.45, 0.2, -0.2, -0.3, -0.2, -0.05, 0.1, 0.2, 0.15,
    0.15, 0.1, 0.0, -0.15, -0.2, -0.1, 0.0, 0.05, -0.2, -0.3,
    -0.1, 0.05, 0.1, 0.0, 0.0, -0.1, -0.2, -0.3, -0.4, -0.1,
    0.3, 0.55, 0.6, 0.2, -0.3, -0.65, -0.7, -0.2, 0.3, 0.4,
    0.1, 0.0, -0.05, -0.1, -0.1, 0.0, 0.15, 0.3, 0.4, 0.0,
    -0.5, -0.8, -0.4, 0.2, 0.5, 0.6, 0.3, -0.1, -0.4, -0.6,
    -0.55, -0.4, -0.2, 0.1, 0.4, 0.65, 0.7, 0.3, -0.1, -0.3,
    -0.2, 0.0, 0.05, 0.15, 0.2, 0.0, -0.1, 0.05, 0.2, -0.1,
    -0.4, -0.1, 0.25, 0.3, 0.1, -0.2, -0.1, 0.2, 0.6, 0.8,
    0.4, -0.4, -1.0, -1.0, -0.2, 0.8, 1.3, 0.8, -0.3, -0.9,
    -1.1, -0.6, 0.1, 0.5, 0.7, 0.5, 0.1, -0.2, -0.4, -0.2,
    0.1, 0.0, -0.3, -0.2, 0.3, 0.9, 1.2, 0.5, -0.8, -1.5,
    -1.2, -0.4, 0.4, 1.1, 1.5, 1.2, 0.3, -0.6, -0.9, -0.6,
    -0.2, 0.1, 0.25, 0.3, 0.1, -0.2, -0.3, -0.05, 0.1, 0.0,
    -0.3, -0.5, -0.4, 0.1, 0.8, 1.3, 1.3, 0.4, -0.7, -1.4,
    -1.2, -0.6, 0.0, 0.3, 0.35, 0.2, 0.0]
c4_black = [
    0.0, -0.15, -0.2, -0.05, 0.0, 0.05, 0.1, 0.05, 0.0, 0.05,
    0.1, -0.2, -0.6, -0.7, 0.3, 1.2, 0.7, -0.2, -0.9, -1.2,
    -0.9, -0.1, 0.6, 0.6, 0.0, -0.4, -0.45, -0.1, 0.25, 0.45,
    0.5, 0.2, -0.4, -0.85, -0.9, -0.2, 0.6, 1.2, 0.7, -0.1,
    0.1, 0.6, 0.75, -0.2, -1.2, -1.1, -0.8, -0.5, -0.3, -0.1,
    0.2, 0.5, 0.85, 0.9, 0.3, -0.5, -0.95, -0.7, 0.0, 0.6,
    0.9, 0.7, 0.3, 0.2, 0.1, -0.3, -0.7, -0.9, -0.95, -0.4,
    0.3, 0.7, 0.4, -0.3, -0.7, -0.4, 0.1, 0.5, 0.7, 0.4,
    -0.2, -0.6, -0.3, 0.4, 0.95, 0.6, -0.2, -0.75, -0.3, 0.5,
    1.0, 0.5, -0.4, -0.95, -1.1, -0.6, 0.1, 0.5, 0.7, 0.4,
    0.1, -0.15, -0.3, -0.2, 0.0, 0.1, 0.05, -0.1, -0.2, 0.0,
    0.3, 0.45, 0.2, -0.2, -0.3, -0.2, -0.05, 0.1, 0.2, 0.15,
    0.15, 0.1, 0.0, -0.15, -0.2, -0.1, 0.0, 0.05, -0.2, -0.3,
    -0.1, 0.05, 0.1, 0.0, 0.0, -0.1, -0.2, -0.3, -0.4, -0.1,
    0.3, 0.55, 0.6, 0.2, -0.3, -0.65, -0.7, -0.2, 0.3, 0.4,
    0.1, 0.0, -0.05, -0.1, -0.1, 0.0, 0.15, 0.3, 0.4, 0.0,
    -0.5, -0.8, -0.4, 0.2, 0.5, 0.6, 0.3, -0.1, -0.4, -0.6,
    -0.55, -0.4, -0.2, 0.1, 0.4, 0.65, 0.7, 0.3, -0.1, -0.3,
    -0.2, 0.0, 0.05, 0.15, 0.2, 0.0, -0.1, 0.05, 0.2, -0.1,
    -0.4, -0.1, 0.25, 0.3, 0.1, -0.2, -0.15, 0.2, 0.7, 1.1,
    0.6, -0.5, -1.3, -1.4, -0.3, 0.8, 1.3, 0.8, -0.1, -0.7,
    -0.8, -0.4, 0.1, 0.5, 0.7, 0.5, 0.1, -0.2, -0.4, -0.2,
    0.1, 0.0, -0.3, -0.2, 0.3, 0.9, 1.2, 0.5, -0.8, -1.6,
    -1.2, -0.4, 0.4, 1.1, 1.5, 1.2, 0.3, -0.6, -0.9, -0.6,
    -0.2, 0.1, 0.25, 0.2, 0.0, -0.25, -0.3, -0.05, 0.1, 0.0,
    -0.35, -0.7, -0.5, 0.1, 0.8, 1.3, 1.3, 0.4, -0.7, -1.4,
    -1.2, -0.5, 0.2, 0.55, 0.5, 0.25, 0.0]

# ---------------- C5 (yearly) ----------------
c5_blue = [
    0.0, -0.3, -0.55, -0.8, -1.0, -0.6, 0.3, 0.82, 0.6, -0.1,
    -0.4, -0.65, -0.55, -0.1, 0.3, 0.45, 0.4, 0.38, 0.4, 0.38,
    0.25, 0.1, -0.1, -0.2, -0.15, -0.05, 0.05, 0.15, 0.2, 0.05,
    -0.2, -0.33, -0.3, -0.05, 0.25, 0.45, 0.5, 0.2, -0.3, -0.62,
    -0.55, -0.05, 0.5, 0.65, 0.3, -0.3, -0.65, -0.6, 0.0, 0.42,
    0.4, 0.05, -0.25, -0.3, -0.05, 0.25, 0.28, 0.0, -0.3, -0.33,
    0.15, 0.5, 0.3, -0.2, -0.6, -0.5, -0.15, 0.1, 0.25, 0.45,
    0.55, 0.45, 0.2, -0.05, -0.25, -0.25, -0.05, 0.12, 0.12, -0.03,
    -0.03, 0.05, 0.1, 0.05, -0.1, -0.2, -0.1, 0.1, 0.28, 0.25,
    -0.05, -0.3, -0.3, 0.0, 0.25, 0.22, 0.1, 0.0, 0.0, 0.05,
    0.1, 0.08, 0.0, -0.1, -0.2, -0.15, 0.05, 0.2, 0.1, -0.2,
    -0.28, -0.05, 0.2, 0.15, 0.1, 0.1, 0.1, 0.1, 0.0, -0.2,
    -0.25, -0.15, 0.0, 0.25, 0.55, 0.7, 0.6, 0.4, 0.2, -0.5,
    -1.1, -1.05, -0.4, 0.0]
c5_red = [
    0.0, -0.3, -0.5, -0.75, -0.98, -0.85, -0.1, 0.6, 0.85, 0.3,
    -0.4, -0.48, -0.25, 0.0, 0.15, 0.2, 0.05, -0.1, 0.05, 0.2,
    0.15, -0.1, -0.3, -0.33, -0.1, 0.25, 0.4, 0.3, 0.05, -0.1,
    -0.15, -0.2, -0.15, 0.05, 0.3, 0.45, 0.35, 0.0, -0.35, -0.55,
    -0.48, 0.0, 0.5, 0.58, 0.2, -0.3, -0.58, -0.45, 0.05, 0.42,
    0.35, 0.0, -0.25, -0.27, 0.0, 0.22, 0.22, -0.05, -0.33, -0.25,
    0.25, 0.5, 0.2, -0.25, -0.45, -0.1, 0.27, 0.2, -0.25, -0.35,
    0.25, 0.45, 0.15, -0.3, -0.3, -0.1, 0.15, 0.3, 0.2, -0.15,
    -0.45, -0.2, 0.4, 0.58, 0.05, -0.6, -0.55, 0.1, 0.65, 0.4,
    -0.15, -0.45, -0.45, -0.15, 0.15, 0.3, 0.2, -0.05, -0.15, -0.05,
    0.15, 0.25, 0.15, -0.1, -0.3, -0.35, -0.1, 0.15, 0.1, -0.1,
    -0.15, 0.0, 0.2, 0.15, 0.0, -0.05, -0.05, -0.1, -0.2, -0.25,
    -0.1, 0.1, 0.2, 0.05, -0.2, -0.15, 0.2, 0.48, 0.35, -0.15,
    -0.6, -0.68, -0.35, 0.0]
c5_green = [
    0.0, -0.2, -0.3, -0.45, -0.65, -0.75, -0.2, 0.6, 0.82, 0.2,
    -0.5, -0.5, -0.2, 0.05, 0.2, 0.22, 0.05, 0.0, 0.1, 0.25,
    0.2, -0.05, -0.3, -0.33, -0.1, 0.3, 0.45, 0.35, 0.0, -0.25,
    -0.3, -0.2, -0.1, 0.1, 0.4, 0.5, 0.35, 0.0, -0.35, -0.55,
    -0.5, 0.0, 0.55, 0.62, 0.2, -0.3, -0.6, -0.48, 0.08, 0.45,
    0.35, 0.0, -0.22, -0.22, 0.05, 0.28, 0.25, -0.08, -0.35, -0.25,
    0.28, 0.55, 0.2, -0.28, -0.45, -0.1, 0.3, 0.15, -0.3, -0.35,
    0.3, 0.5, 0.15, -0.3, -0.3, -0.1, 0.15, 0.3, 0.2, -0.15,
    -0.4, -0.15, 0.35, 0.45, 0.0, -0.55, -0.5, 0.05, 0.5, 0.35,
    -0.1, -0.3, -0.28, -0.05, 0.15, 0.2, 0.1, -0.05, -0.1, 0.0,
    0.1, 0.1, 0.05, -0.1, -0.25, -0.3, -0.05, 0.2, 0.15, -0.1,
    -0.2, 0.0, 0.25, 0.2, 0.05, 0.0, -0.05, -0.1, -0.2, -0.3,
    -0.2, 0.2, 0.45, 0.3, -0.15, -0.4, -0.1, 0.4, 0.55, 0.1,
    -0.4, -0.55, -0.3, 0.0]
c5_black = [
    0.0, -0.12, -0.2, -0.25, -0.5, -0.7, -0.2, 0.6, 0.8, 0.2,
    -0.5, -0.5, -0.2, 0.05, 0.22, 0.22, -0.05, -0.25, 0.0, 0.3,
    0.2, -0.05, -0.3, -0.33, -0.1, 0.3, 0.5, 0.35, 0.0, -0.18,
    -0.2, -0.15, -0.15, 0.1, 0.4, 0.5, 0.35, 0.0, -0.35, -0.55,
    -0.5, 0.0, 0.55, 0.6, 0.2, -0.3, -0.62, -0.5, 0.1, 0.48,
    0.35, 0.0, -0.22, -0.22, 0.05, 0.28, 0.25, -0.1, -0.38, -0.25,
    0.25, 0.5, 0.2, -0.3, -0.5, -0.1, 0.33, 0.15, -0.3, -0.35,
    0.3, 0.55, 0.15, -0.3, -0.3, -0.1, 0.15, 0.3, 0.2, -0.15,
    -0.4, -0.15, 0.3, 0.38, 0.0, -0.5, -0.5, 0.0, 0.48, 0.35,
    -0.1, -0.33, -0.3, -0.05, 0.2, 0.25, 0.1, -0.1, -0.15, -0.1,
    0.0, 0.1, 0.2, 0.1, -0.25, -0.45, -0.1, 0.35, 0.3, -0.1,
    -0.3, -0.1, 0.25, 0.25, -0.05, -0.2, 0.05, 0.2, 0.0, -0.45,
    -0.4, 0.2, 0.55, 0.3, -0.25, -0.55, -0.2, 0.45, 0.6, 0.15,
    -0.4, -0.5, -0.25, 0.0]

# ---------------- C6 (two-year steps) ----------------
c6_blue = [
    0.0, 0.1, 0.2, 0.38, 0.55, 0.6, 0.5, 0.35, 0.12, -0.1,
    -0.4, -0.55, -0.55, -0.3, 0.05, 0.42, 0.6, 0.4, 0.0, -0.38,
    -0.48, -0.2, 0.15, 0.35, 0.25, 0.05, -0.25, -0.35, -0.15, 0.2,
    0.35, 0.15, -0.2, -0.33, -0.1, 0.2, 0.3, 0.15, 0.02, -0.1,
    -0.2, -0.25, -0.1, 0.12, 0.18, -0.05, -0.25, -0.1, 0.15, 0.3,
    0.2, -0.05, -0.3, -0.4, -0.15, 0.2, 0.45, 0.3, -0.1, -0.45,
    -0.35, -0.05, 0.25, 0.35, 0.25, 0.15, 0.05, 0.0]
c6_red = [
    0.0, -0.2, -0.18, 0.05, 0.25, 0.2, 0.05, 0.0, 0.0, -0.05,
    -0.2, -0.4, -0.35, -0.25, 0.05, 0.33, 0.35, 0.3, 0.0, -0.4,
    -0.48, -0.1, 0.28, 0.33, 0.2, -0.05, -0.28, -0.22, 0.05, 0.27,
    0.3, 0.1, -0.25, -0.32, 0.0, 0.32, 0.25, 0.05, 0.0, 0.0,
    -0.03, -0.08, -0.05, 0.05, 0.05, 0.0, -0.05, 0.0, 0.08, 0.08,
    -0.05, -0.25, -0.38, -0.3, 0.0, 0.33, 0.38, 0.15, -0.2, -0.43,
    -0.35, 0.0, 0.3, 0.3, 0.05, -0.1, -0.05, 0.0]
c6_green = [
    0.0, -0.35, -0.35, -0.05, 0.3, 0.22, 0.0, -0.1, 0.02, 0.05,
    -0.1, -0.35, -0.38, -0.22, 0.08, 0.35, 0.38, 0.33, 0.0, -0.4,
    -0.48, -0.1, 0.28, 0.33, 0.18, -0.05, -0.25, -0.22, 0.05, 0.27,
    0.3, 0.1, -0.25, -0.32, 0.0, 0.36, 0.25, 0.02, -0.05, -0.03,
    -0.05, -0.1, -0.05, 0.07, 0.05, 0.0, -0.08, -0.03, 0.08, 0.08,
    -0.08, -0.28, -0.4, -0.3, 0.03, 0.35, 0.38, 0.15, -0.2, -0.45,
    -0.35, 0.0, 0.32, 0.3, 0.02, -0.2, -0.08, 0.0]
c6_black = [
    0.0, -0.45, -0.5, -0.15, 0.42, 0.25, -0.2, -0.15, 0.1, 0.2,
    0.05, -0.3, -0.4, -0.2, 0.1, 0.37, 0.4, 0.35, 0.0, -0.42,
    -0.48, -0.1, 0.3, 0.33, 0.18, -0.05, -0.25, -0.2, 0.05, 0.27,
    0.3, 0.1, -0.25, -0.32, 0.0, 0.35, 0.25, 0.0, -0.08, -0.05,
    -0.05, -0.1, -0.05, 0.08, 0.05, -0.02, -0.1, -0.05, 0.08, 0.08,
    -0.1, -0.3, -0.4, -0.3, 0.05, 0.35, 0.38, 0.15, -0.2, -0.45,
    -0.35, 0.0, 0.33, 0.3, 0.0, -0.28, -0.1, 0.0]

# ---------------- C7 (three-year steps) ----------------
c7_blue = [
    0.0, -0.1, -0.2, -0.3, -0.3, -0.25, -0.12, 0.0, 0.12, 0.22,
    0.27, 0.25, 0.1, -0.05, -0.17, -0.25, -0.22, -0.1, 0.05, 0.17,
    0.23, 0.23, 0.17, 0.07, -0.07, -0.17, -0.22, -0.2, -0.13, 0.05,
    0.22, 0.14, -0.05, -0.17, -0.25, -0.26, -0.12, 0.02, 0.17, 0.28,
    0.28, 0.22, 0.12, 0.05, 0.01, 0.0]
c7_red = [
    0.0, 0.0, 0.0, 0.0, 0.0, -0.03, -0.1, -0.12, -0.08, 0.03,
    0.15, 0.2, 0.1, -0.05, -0.14, -0.15, -0.14, -0.02, 0.1, 0.12,
    0.09, 0.0, 0.02, 0.08, 0.06, -0.05, -0.14, -0.17, -0.13, 0.03,
    0.2, 0.17, 0.02, -0.1, -0.18, -0.22, -0.12, -0.04, 0.04, 0.12,
    0.17, 0.17, 0.12, 0.07, 0.01, 0.0]
c7_green = [
    0.0, -0.06, -0.01, 0.08, 0.1, 0.06, -0.05, -0.13, -0.11, 0.0,
    0.17, 0.22, 0.1, -0.05, -0.15, -0.16, -0.14, -0.02, 0.1, 0.12,
    0.08, -0.02, 0.02, 0.1, 0.06, -0.06, -0.15, -0.18, -0.14, 0.04,
    0.2, 0.16, -0.02, -0.15, -0.2, -0.21, -0.1, 0.03, 0.1, 0.15,
    0.16, 0.16, 0.12, 0.08, 0.01, 0.0]
c7_black = [
    0.0, -0.1, 0.0, 0.14, 0.18, 0.12, -0.03, -0.22, -0.2, 0.02,
    0.2, 0.27, 0.14, -0.05, -0.18, -0.2, -0.17, -0.02, 0.1, 0.12,
    0.05, -0.04, 0.01, 0.09, 0.05, -0.07, -0.15, -0.18, -0.13, 0.05,
    0.2, 0.15, -0.05, -0.17, -0.2, -0.22, -0.1, 0.02, 0.1, 0.15,
    0.16, 0.16, 0.12, 0.07, 0.01, 0.0]

# ---------------- C8 (five-year steps) ----------------
c8_blue = [
    -0.01, -0.03, -0.05, -0.04, -0.03, -0.015, 0.0, 0.03, 0.065, 0.09,
    0.09, 0.1, 0.08, 0.02, -0.02, -0.07, -0.14, -0.15, -0.11, -0.04,
    0.02, 0.07, 0.14, 0.16, 0.17, 0.1, 0.04, 0.0]
c8_red = [
    0.0, 0.0, 0.0, -0.005, -0.015, -0.02, -0.02, -0.02, -0.015, -0.005,
    0.01, 0.06, 0.12, 0.09, 0.0, -0.09, -0.17, -0.18, -0.11, -0.02,
    0.07, 0.13, 0.17, 0.19, 0.19, 0.14, 0.05, 0.0]
c8_green = [
    0.0, -0.03, -0.045, -0.05, -0.04, -0.03, -0.02, -0.01, -0.005, -0.002,
    0.02, 0.07, 0.12, 0.1, 0.0, -0.09, -0.18, -0.18, -0.12, -0.02,
    0.07, 0.14, 0.18, 0.2, 0.21, 0.15, 0.05, 0.0]
c8_black = [
    0.0, -0.01, -0.015, -0.02, -0.02, -0.02, -0.02, -0.02, -0.02, -0.02,
    0.01, 0.06, 0.12, 0.08, -0.005, -0.09, -0.17, -0.17, -0.1, -0.01,
    0.08, 0.13, 0.17, 0.19, 0.2, 0.15, 0.05, 0.0]

# ---------------- C9 (five-year steps) ----------------
c9_blue = [
    0.01, 0.027, 0.04, 0.058, 0.068, 0.07, 0.07, 0.065, 0.058, 0.05,
    0.04, 0.027, 0.01, -0.01, -0.025, -0.04, -0.055, -0.062, -0.065, -0.06,
    -0.045, -0.035, -0.025, -0.013, 0.0, 0.005, 0.01, 0.01]
c9_red = [
    -0.005, 0.0, 0.0, 0.015, 0.025, 0.03, 0.035, 0.045, 0.05, 0.05,
    0.05, 0.045, 0.03, 0.01, 0.0, -0.02, -0.04, -0.05, -0.05, -0.045,
    -0.035, -0.025, -0.015, -0.008, 0.0, 0.0, 0.0, 0.0]
c9_green = [
    0.01, -0.005, -0.01, -0.01, -0.005, 0.01, 0.02, 0.032, 0.045, 0.055,
    0.068, 0.065, 0.05, 0.02, 0.005, -0.035, -0.07, -0.08, -0.077, -0.07,
    -0.055, -0.04, -0.03, -0.012, 0.0, 0.01, 0.015, 0.015]
c9_black = [
    0.0, -0.012, -0.03, -0.04, -0.035, -0.02, 0.0, 0.025, 0.048, 0.062,
    0.07, 0.072, 0.06, 0.025, -0.005, -0.035, -0.058, -0.065, -0.06, -0.05,
    -0.03, -0.01, 0.0, 0.01, 0.015, 0.02, 0.02, 0.02]

# ---------------- R (five-year steps) ----------------
r_blue = [
    -0.105, -0.097, -0.09, -0.082, -0.075, -0.068, -0.06, -0.055, -0.05, -0.04,
    -0.03, -0.02, -0.01, -0.005, 0.0, 0.01, 0.02, 0.03, 0.04, 0.05,
    0.06, 0.07, 0.08, 0.09, 0.1, 0.11, 0.115, 0.12]
r_red = [
    -0.1, -0.09, -0.085, -0.077, -0.07, -0.06, -0.05, -0.043, -0.035, -0.025,
    -0.015, -0.008, 0.0, 0.005, 0.012, 0.025, 0.03, 0.04, 0.05, 0.06,
    0.068, 0.075, 0.085, 0.095, 0.105, 0.11, 0.12, 0.12]
r_green = [
    -0.105, -0.095, -0.085, -0.073, -0.062, -0.05, -0.037, -0.027, -0.017, -0.005,
    0.008, 0.013, 0.018, 0.022, 0.027, 0.028, 0.033, 0.038, 0.045, 0.05,
    0.058, 0.063, 0.07, 0.075, 0.085, 0.095, 0.105, 0.115]
r_black = [
    -0.105, -0.095, -0.085, -0.073, -0.062, -0.05, -0.035, -0.025, -0.015, -0.003,
    0.01, 0.015, 0.02, 0.025, 0.03, 0.03, 0.035, 0.04, 0.05, 0.055,
    0.06, 0.065, 0.07, 0.08, 0.09, 0.1, 0.11, 0.12]

ylims = [2, 2, 2, 2, 1, 1, 0.5, 0.5, 0.2, 0.2]
ytick_labels = [["-2", "0", "2"]] * 4 + [["-1", "0", "1"]] * 2 + \
    [["-0.5", "0", "0.5"]] * 2 + [["-0.2", "0", "0.2"]] * 2

panels = [
    (years_half, [c1_blue, c1_red, c1_green, c1_black]),
    (years_half, [c2_blue, c2_red, c2_green, c2_black]),
    (years_half, [c3_blue, c3_red, c3_green, c3_black]),
    (years_half, [c4_blue, c4_red, c4_green, c4_black]),
    (years_1, [c5_blue, c5_red, c5_green, c5_black]),
    (years_c6, [c6_blue, c6_red, c6_green, c6_black]),
    (years_c7, [c7_blue, c7_red, c7_green, c7_black]),
    (years_5, [c8_blue, c8_red, c8_green, c8_black]),
    (years_5, [c9_blue, c9_red, c9_green, c9_black]),
    (years_5, [r_blue, r_red, r_green, r_black]),
]

colors = ["#1c1ca8", "#ee1c24", "#14a550", "#2e2e2e"]
ink = "#262626"

W, H = 894, 1039
fig = plt.figure(figsize=(W / 100, H / 100), dpi=100)

for i, (name, (x, series)) in enumerate(zip(panel_names, panels)):
    top = 50 + 98 * i
    ax = fig.add_axes([82 / W, 1 - (top + 73) / H, 811 / W, 73 / H])
    for vals, col in zip(series, colors):
        assert len(vals) == len(x), (name, len(vals), len(x))
        ax.plot(x, vals, color=col, lw=0.8)
    lim = ylims[i]
    ax.set_xlim(1870, 2005)
    ax.set_ylim(-lim, lim)
    ax.set_yticks([-lim, 0, lim])
    ax.set_yticklabels(ytick_labels[i])
    ax.set_xticks(xtick_years)
    if i == len(panel_names) - 1:
        ax.set_xticklabels([str(v) for v in xtick_years])
    else:
        ax.set_xticklabels([])
    ax.grid(True, color=ink, lw=0.7, ls=(0, (5, 3)))
    ax.tick_params(direction="in", top=True, right=True, length=4, width=0.8,
                   colors=ink, labelsize=13.5, labelcolor="#333333")
    ax.tick_params(axis="y", pad=3)
    ax.tick_params(axis="x", pad=7)
    for sp in ax.spines.values():
        sp.set_color(ink)
        sp.set_linewidth(1.0)
    ax.set_ylabel(name, fontsize=15, color="#333333", labelpad=6)

fig.text((82 + 893) / 2 / W, 1 - 20 / H, title, ha="center", va="center",
         fontsize=14.8, color="#333333")

fig.savefig("out.png", dpi=100)
